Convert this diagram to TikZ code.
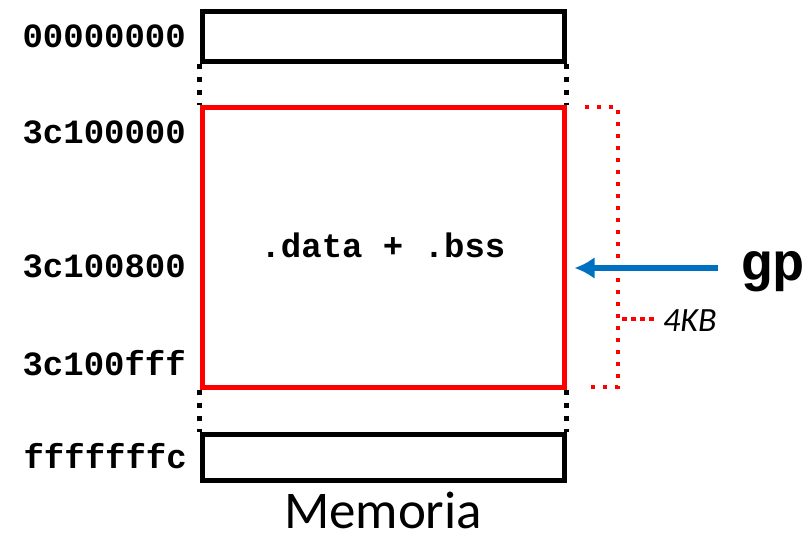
\documentclass[tikz,border=0pt]{standalone}
\usepackage{fontspec}
\setmainfont{Carlito}
\newfontfamily\addrfont{Liberation Mono}
\usetikzlibrary{arrows.meta,calc,positioning}
\definecolor{gpblue}{RGB}{0,112,192}
\newcommand{\ArrTip}{Latex[length=20pt,width=22pt]}
\newcommand{\AddrFont}{\addrfont\bfseries\fontsize{34}{40}\selectfont}
\tikzset{membox/.style={draw,line width=5pt,minimum width=362pt,inner sep=0pt}}
\tikzset{addr/.style={anchor=base east,inner sep=0pt,font=\AddrFont}}
\tikzset{dotline/.style={line width=5pt,dash pattern=on 5pt off 8pt}}
\tikzset{kbdot/.style={red,line width=4pt,dash pattern=on 4pt off 8pt}}

\begin{document}
\begin{tikzpicture}[x=1pt,y=-1pt]
\useasboundingbox (0,0) rectangle (810,543);
% memory blocks
\node[membox,minimum height=49pt](top) at (383,36.5){};
\node[membox,red,minimum height=280pt](data) at (383,247){};
\node[membox,minimum height=46pt](bot) at (383,457){};
\node[anchor=base,inner sep=0pt,font=\AddrFont](datatxt) at (383,257){.data + .bss};
\draw[dotline](top.south west)--(data.north west);\draw[dotline](top.south east)--(data.north east);
\draw[dotline](data.south west)--(bot.north west);\draw[dotline](data.south east)--(bot.north east);
% addresses
\node[addr](a0) at (186,48){00000000};
\node[addr](a1) at (186,143){3c100000};
\node[addr](a2) at (186,277){3c100800};
\node[addr](a3) at (186,375){3c100fff};
\node[addr](a4) at (187,468){fffffffc};
% 4KB bracket
\coordinate (bt) at (585,107);\coordinate (bb) at (585,387);
\draw[kbdot](bt)--++(33,0)|-(bb);
\node[anchor=base west,inner sep=0pt,font=\itshape\fontsize{34}{40}\selectfont](kb) at (663,331){4KB};
\draw[kbdot,dash pattern=on 5pt off 4pt](kb.west)++(-9,-1)--++(-34,0);
% gp pointer
\node[anchor=base west,inner sep=0pt,font=\addrfont\bfseries\fontsize{54}{60}\selectfont](gp) at (740,280){gp};
\coordinate (gpin) at (718,268);
\draw[gpblue,line width=6pt,-{\ArrTip},shorten >=8pt](gpin)--(gpin-|data.east);
% caption
\node[anchor=base,inner sep=0pt,font=\fontsize{53}{60}\selectfont](mem) at (383,528){Memoria};
\end{tikzpicture}
\end{document}
